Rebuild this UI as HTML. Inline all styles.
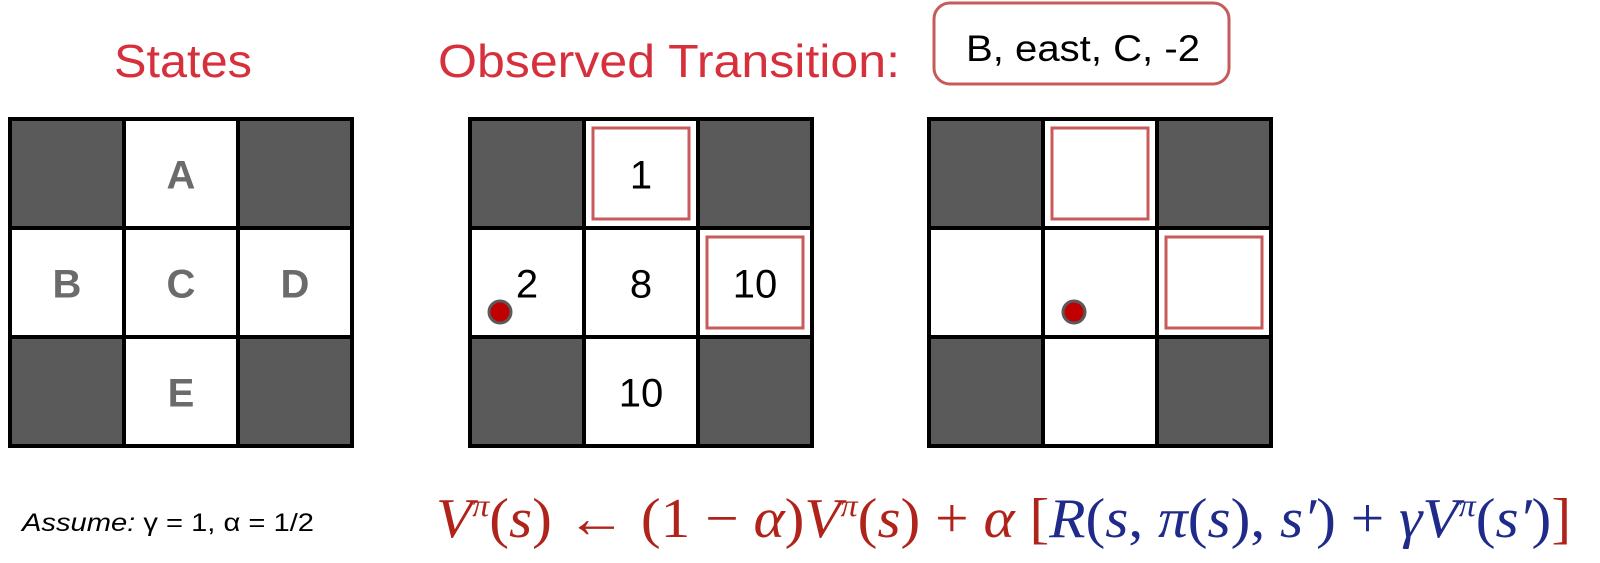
<!DOCTYPE html>
<html><head><meta charset="utf-8"><style>
html,body{margin:0;padding:0;background:#fff;}
svg{display:block;}
</style></head><body>
<svg width="1600" height="563" viewBox="0 0 1600 563" xmlns="http://www.w3.org/2000/svg">
<text x="114" y="77" font-family="Liberation Sans, sans-serif" font-size="46" fill="#d7303d" textLength="138" lengthAdjust="spacingAndGlyphs">States</text>
<text x="438" y="77" font-family="Liberation Sans, sans-serif" font-size="46" fill="#d7303d" textLength="462" lengthAdjust="spacingAndGlyphs">Observed Transition:</text>
<rect x="934" y="3" width="295" height="81" rx="16" fill="#fff" stroke="#c85a5a" stroke-width="3"/>
<text x="1083" y="61" text-anchor="middle" font-family="Liberation Sans, sans-serif" font-size="37" fill="#000" textLength="234" lengthAdjust="spacingAndGlyphs">B, east, C, -2</text>
<g id="grids"></g>
<text x="22" y="531" font-family="Liberation Sans, sans-serif" font-size="25" fill="#000" textLength="292" lengthAdjust="spacingAndGlyphs"><tspan font-style="italic">Assume:</tspan> γ = 1, α = 1/2</text>
<g transform="translate(436,0) scale(1.06,1)">
<text x="0" y="537" font-family="Liberation Serif, serif" font-size="56"><tspan fill="#b0231b" font-style="italic">V</tspan><tspan fill="#b0231b" font-style="italic" font-size="32" dy="-21">π</tspan><tspan fill="#b0231b" dy="21">(<tspan font-style="italic">s</tspan>) ← (1 − <tspan font-style="italic">α</tspan>)<tspan font-style="italic">V</tspan></tspan><tspan fill="#b0231b" font-style="italic" font-size="32" dy="-21">π</tspan><tspan fill="#b0231b" dy="21">(<tspan font-style="italic">s</tspan>) + <tspan font-style="italic">α</tspan> </tspan><tspan fill="#1f2a8a"><tspan fill="#b0231b">[</tspan><tspan font-style="italic">R</tspan>(<tspan font-style="italic">s</tspan>, <tspan font-style="italic">π</tspan>(<tspan font-style="italic">s</tspan>), <tspan font-style="italic">s′</tspan>) + <tspan font-style="italic">γV</tspan></tspan><tspan fill="#1f2a8a" font-style="italic" font-size="32" dy="-21">π</tspan><tspan fill="#1f2a8a" dy="21">(<tspan font-style="italic">s′</tspan>)<tspan fill="#b0231b">]</tspan></tspan></text>
</g>
</svg>
<script>
const gridLefts=[10,470,929];
const cellLabels=[["","A","","B","C","D","","E",""],["","1","","2","8","10","","10",""],["","","","","","","","",""]];
const ns="http://www.w3.org/2000/svg";
const g=document.getElementById('grids');
const top0=119,cw=114,ch=109;
function mk(t,a){const e=document.createElementNS(ns,t);for(const k in a)e.setAttribute(k,a[k]);g.appendChild(e);return e;}
gridLefts.forEach((L,gi)=>{
  for(let i=0;i<9;i++){
    const r=Math.floor(i/3),c=i%3;
    const dark=(r!==1&&c!==1);
    const x=L+c*cw,y=top0+r*ch;
    const cell=mk('rect',{x:x,y:y,width:cw,height:ch,fill:dark?'#5a5a5a':'#fff',stroke:'#000','stroke-width':4});
    
    
    if(gi>0&&(i===1||i===5)){
      const hb=mk('rect',{x:x+9,y:y+9,width:cw-18,height:ch-18,fill:'none',stroke:'#c85a5a','stroke-width':3});
      
      
    }
    const lab=cellLabels[gi][i];
    if(lab){
      const t=mk('text',{x:x+cw/2,y:y+ch/2+15,'text-anchor':'middle','font-family':'Liberation Sans, sans-serif','font-size':40,'font-weight':gi===0?'bold':'normal',fill:gi===0?'#6b6b6b':'#000'});
      t.textContent=lab;
      
      
    }
  }
});
[[500,312],[1074,312]].forEach(p=>{
  const d=mk('circle',{cx:p[0],cy:p[1],r:11,fill:'#c00000',stroke:'#5a5a5a','stroke-width':3});
  
  
});
</script>
</body></html>
